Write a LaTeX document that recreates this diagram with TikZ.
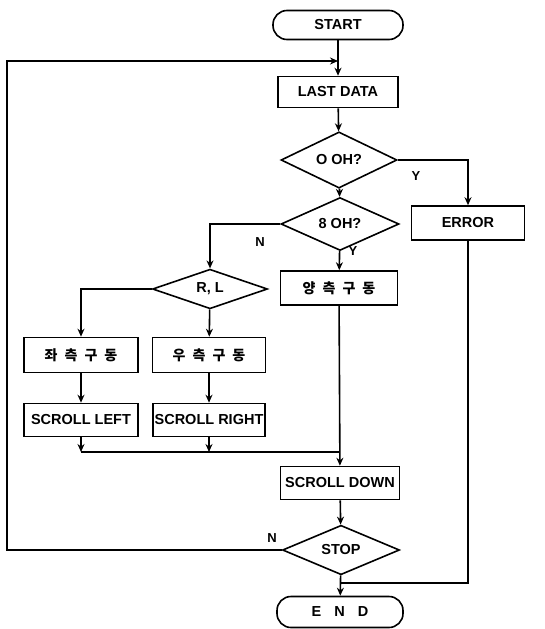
\documentclass[tikz,border=0pt]{standalone}
\usepackage{fontspec}
\setmainfont{Liberation Sans}
\newfontfamily\kofont{Noto Sans CJK KR}
\usetikzlibrary{arrows.meta,positioning,shapes.geometric}

\begin{document}
\begin{tikzpicture}[
  x=1pt, y=-1pt,
  line width=1.6pt,
  font=\fontsize{14.5}{16}\selectfont\bfseries,
  term/.style={draw, rounded corners=14pt, inner sep=0pt},
  proc/.style={draw, rectangle, inner sep=0pt},
  dec/.style={draw, diamond, inner sep=0pt},
  arr/.style={-{Stealth[length=8pt,width=7pt]}},
  lab/.style={font=\fontsize{13}{15}\selectfont\bfseries},
  ko/.style={font=\kofont\fontsize{14}{16}\selectfont\bfseries},
]
\useasboundingbox (0,0) rectangle (545,629);

% main column
\node[term, minimum width=130pt, minimum height=29pt] (start) at (338,25) {START};
\node[proc, minimum width=120pt, minimum height=31pt] (last) at (338,92) {LAST\hspace{0.3em}DATA};
\node[dec, minimum width=116pt, minimum height=31pt] (ooh) at (339,160) {O OH?};
\node[proc, minimum width=113pt, minimum height=34pt] (err) at (468,223) {ERROR};
\node[dec, minimum width=118pt, minimum height=32pt] (boh) at (340,224) {8 OH?};
\node[proc, ko, minimum width=117pt, minimum height=34pt] (both) at (339,288) {양\hspace{0.5em}측\hspace{0.5em}구\hspace{0.5em}동};
\node[dec, minimum width=115pt, minimum height=31pt] (rl) at (210,289) {R, L};
\node[proc, ko, minimum width=114pt, minimum height=35pt] (left) at (81,355) {좌\hspace{0.5em}측\hspace{0.5em}구\hspace{0.5em}동};
\node[proc, ko, minimum width=113pt, minimum height=35pt] (right) at (209,355) {우\hspace{0.5em}측\hspace{0.5em}구\hspace{0.5em}동};
\node[proc, minimum width=114pt, minimum height=33pt] (sleft) at (81,420) {SCROLL LEFT};
\node[proc, minimum width=112pt, minimum height=33pt] (sright) at (209,420) {SCROLL RIGHT};
\node[proc, minimum width=119pt, minimum height=33pt] (sdown) at (340,483) {SCROLL DOWN};
\node[dec, minimum width=117pt, minimum height=30pt] (stop) at (341,550) {STOP};
\node[term, minimum width=126pt, minimum height=31pt] (end) at (340,612) {E\hspace{0.9em}N\hspace{0.9em}D};

\coordinate (loopin) at (338,61);
\coordinate (merge) at (340,452);
\coordinate (join) at (341,583);

% connectors
\draw[arr] (start) -- (last);
\draw[arr] (stop.west) -- (7,550) |- (loopin);
\draw[arr] (last) -- (ooh);
\draw[arr] (ooh.east) -| (err.north);
\node[lab] (ooh-y) at (416,176) {Y};
\draw[arr] (ooh) -- (boh);
\draw[arr] (boh.west) -| (rl.north);
\node[lab] (boh-n) at (260,242) {N};
\draw[arr] (boh) -- (both);
\node[lab] (boh-y) at (353,251) {Y};
\draw[arr] (rl.west) -| (left.north);
\draw[arr] (rl) -- (right);
\draw[arr] (left) -- (sleft);
\draw[arr] (right) -- (sright);
\draw[arr] (sleft.south) -- (sleft.south |- merge);
\draw[arr] (sright.south) -- (sright.south |- merge);
\draw (sleft.south |- merge) -- (merge);
\draw[arr] (both) -- (sdown);
\draw[arr] (sdown) -- (stop);
\node[lab] (stop-n) at (272,538) {N};
\draw[arr] (stop) -- (end);
\draw (err.south) |- (join);
\end{tikzpicture}
\end{document}
